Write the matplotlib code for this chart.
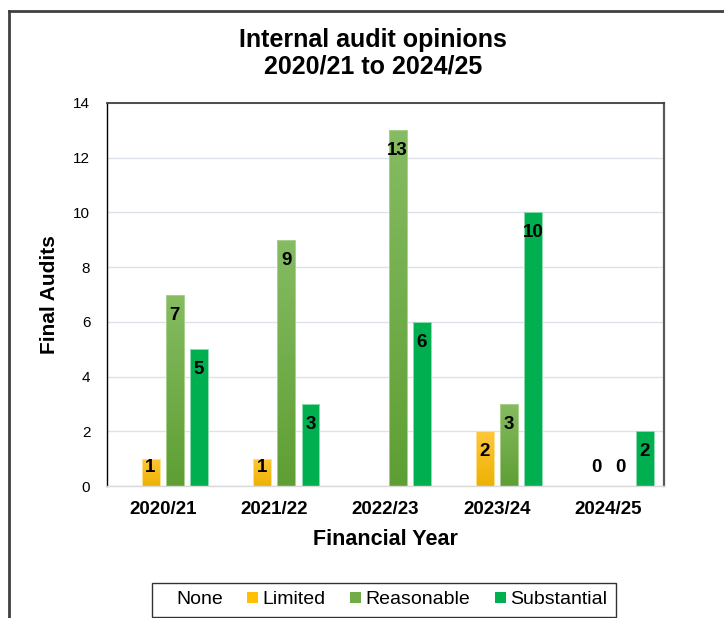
import numpy as np
import matplotlib
matplotlib.use("Agg")
import matplotlib.pyplot as plt
from matplotlib.colors import LinearSegmentedColormap
from matplotlib.patches import Patch
from matplotlib.lines import Line2D

years = ["2020/21", "2021/22", "2022/23", "2023/24", "2024/25"]
series = ["None", "Limited", "Reasonable", "Substantial"]
none_vals = [np.nan, np.nan, np.nan, np.nan, np.nan]
limited = [1, 1, np.nan, 2, 0]
reasonable = [7, 9, 13, 3, 0]
substantial = [5, 3, 6, 10, 2]

NARROW = ["Liberation Sans Narrow", "Liberation Sans", "DejaVu Sans"]
SANS = ["Liberation Sans", "DejaVu Sans"]

# (bottom colour, top colour) for the Excel-style gradient fill
fills = {
    "None": ("#ffffff", "#ffffff"),
    "Limited": ("#EDB100", "#FFC83D"),
    "Reasonable": ("#5E9E33", "#86BC63"),
    "Substantial": ("#00B050", "#00B050"),
}
edges = {"None": "none", "Limited": "#FFE08A", "Reasonable": "#A9D08E", "Substantial": "#8FDBAF"}
legend_cols = {"None": "#ffffff", "Limited": "#FFC000", "Reasonable": "#70AD47", "Substantial": "#00B050"}

fig = plt.figure(figsize=(7.24, 6.18), dpi=100)
ax = fig.add_axes([107 / 724, 132 / 618, 557 / 724, 383 / 618])

width = 0.161
step = 0.218
x = np.arange(len(years))
data = [none_vals, limited, reasonable, substantial]

for k, (name, vals) in enumerate(zip(series, data)):
    off = (k - 1.5) * step
    cmap = LinearSegmentedColormap.from_list(name, list(fills[name]))
    grad = np.linspace(1, 0, 256).reshape(-1, 1)
    for i, v in enumerate(vals):
        if np.isnan(v):
            continue
        xc = x[i] + off
        if v > 0 and name != "None":
            bar = ax.bar(xc, v, width, facecolor="none", edgecolor=edges[name], lw=0.7, zorder=3)[0]
            img = ax.imshow(grad, extent=[xc - width, xc + width, -0.05, v + 0.05], aspect="auto",
                            cmap=cmap, vmin=0, vmax=1, zorder=2, interpolation="bilinear")
            img.set_clip_path(bar)
        ly = max(v - 0.75, 0.66)
        ax.text(xc, ly, f"{int(v)}", ha="center", va="center", fontsize=13.5,
                fontweight="bold", family=SANS, zorder=4)

ax.set_xlim(-0.5, len(years) - 0.5)
ax.set_ylim(0, 14)
ax.set_yticks(range(0, 15, 2))
ax.set_xticks(x)
ax.set_xticklabels(years, fontsize=13.5, fontweight="bold", family=SANS)
for lab in ax.get_yticklabels():
    lab.set_family(NARROW)
    lab.set_fontsize(11)
ax.tick_params(length=0)
ax.tick_params(axis="x", pad=11)
ax.tick_params(axis="y", pad=12)
ax.grid(axis="y", color="#DCE1EA", lw=1, zorder=0)
ax.set_axisbelow(True)

ax.spines["left"].set_color("black")
ax.spines["left"].set_linewidth(1)
ax.spines["top"].set_color("#404040")
ax.spines["top"].set_linewidth(1.3)
ax.spines["right"].set_color("#595959")
ax.spines["right"].set_linewidth(1.6)
ax.spines["bottom"].set_color("#D9D9D9")
ax.spines["bottom"].set_linewidth(1)

ax.set_xlabel("Financial Year", fontsize=15.5, fontweight="bold", family=SANS, labelpad=8)
ax.set_ylabel("Final Audits", fontsize=15, fontweight="bold", family=SANS, labelpad=10)

fig.text(373 / 724, 1 - 40 / 618, "Internal audit opinions", ha="center", va="center",
         fontsize=18, fontweight="bold", family=NARROW)
fig.text(373 / 724, 1 - 67 / 618, "2020/21 to 2024/25", ha="center", va="center",
         fontsize=18, fontweight="bold", family=NARROW)

handles = [Patch(facecolor=legend_cols[s], edgecolor="none") for s in series]
leg = fig.legend(handles, series, loc="center", bbox_to_anchor=(384 / 724, 1 - 600 / 618),
                 ncol=4, frameon=True, fancybox=False, handlelength=0.55,
                 handleheight=0.55, handletextpad=0.25, columnspacing=1.25,
                 borderpad=0.45, prop={"family": SANS, "size": 14})
leg.get_frame().set_edgecolor("black")
leg.get_frame().set_linewidth(1)

# outer chart border (only top and left edges visible in the crop)
fig.add_artist(Line2D([9 / 724, 9 / 724], [0, 1 - 11 / 618], transform=fig.transFigure,
                      color="#404040", lw=2))
fig.add_artist(Line2D([9 / 724, 1], [1 - 11 / 618, 1 - 11 / 618], transform=fig.transFigure,
                      color="#404040", lw=2))

fig.savefig("out.png", dpi=100)
